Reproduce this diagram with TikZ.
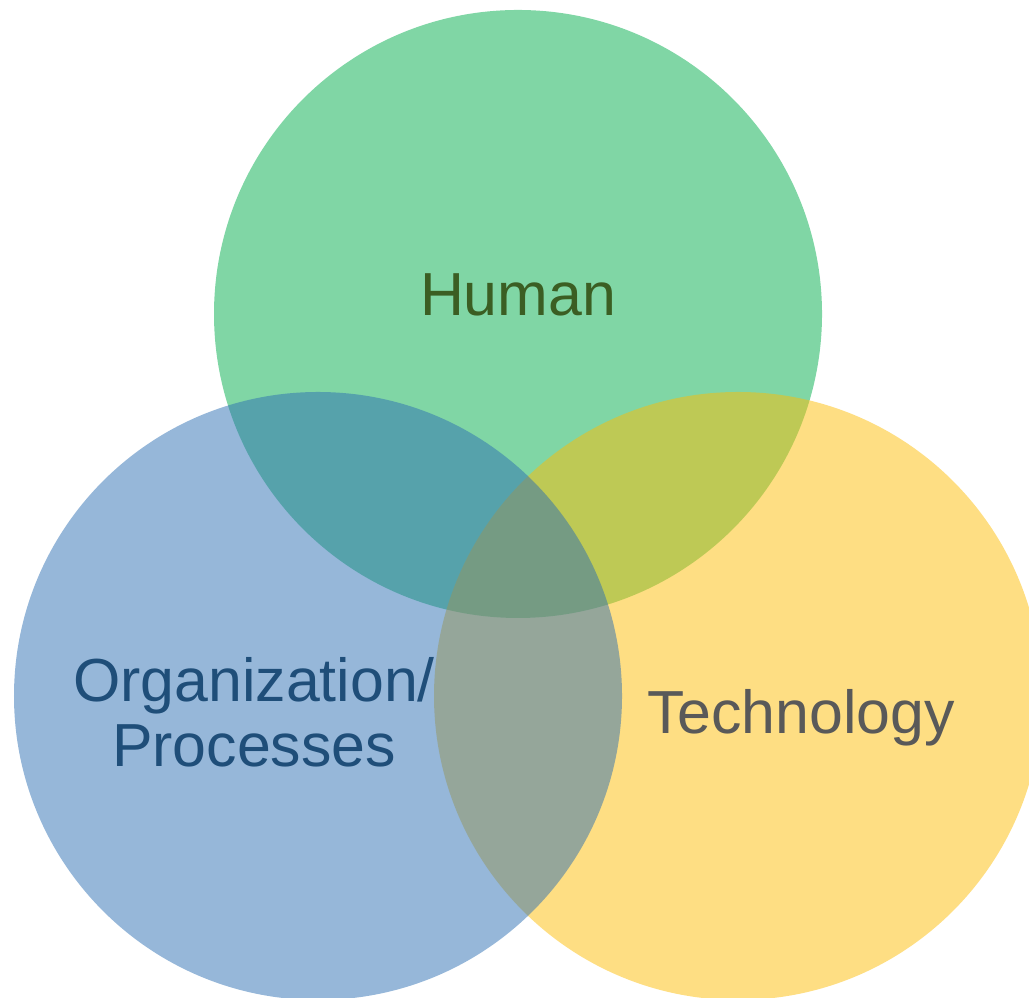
\documentclass[tikz,border=0pt]{standalone}
\usepackage{fontspec}
\setmainfont{Liberation Sans}
\definecolor{humangreen}{HTML}{01AD4B}
\definecolor{techyellow}{HTML}{FDBD07}
\definecolor{orgblue}{HTML}{2D6FB3}
\definecolor{humantxt}{HTML}{3B5E23}
\definecolor{orgtxt}{HTML}{1F4E79}
\definecolor{techtxt}{HTML}{595959}

\begin{document}
\begin{tikzpicture}[venn/.style={circle,draw=none,fill opacity=0.5,minimum size=6.08cm,inner sep=0pt},
  lbl/.style={inner sep=0pt,font=\fontsize{17.3}{18.6}\selectfont}]
\useasboundingbox (0,0) rectangle (10.29,9.97);
\clip (0,0) rectangle (10.29,9.97);
%\draw[help lines] (0,0) grid (10,10);

\node[venn,fill=humangreen] (human) at (5.18,6.83){};
\node[venn,fill=techyellow] (tech) at (7.38,3.01){};
\node[venn,fill=orgblue] (org) at (3.18,3.01){};

\node[lbl,anchor=base,text=humantxt] (humanlbl) at (5.18,6.81){Human};
\node[lbl,anchor=base,text=techtxt] (techlbl) at (8.01,2.63){Technology};
\node[lbl,anchor=base,align=center,text=orgtxt] (orglbl) at (2.54,2.30){Organization/\\Processes};

\end{tikzpicture}
\end{document}
